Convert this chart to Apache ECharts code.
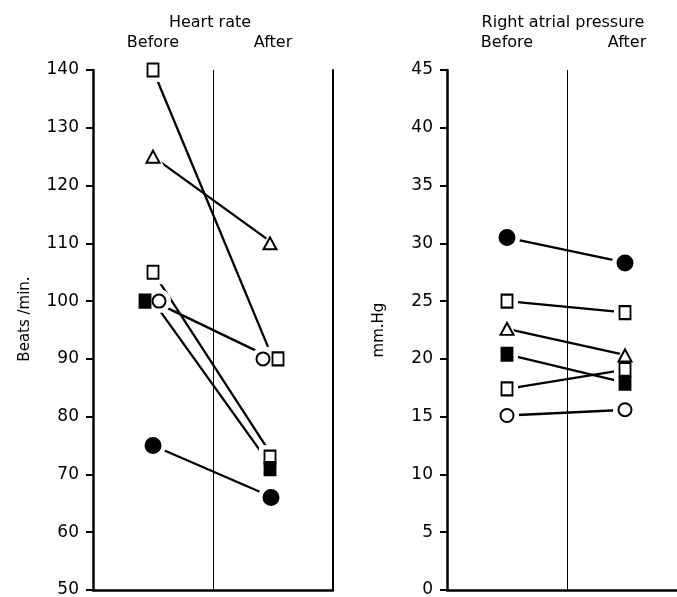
<!DOCTYPE html>
<html><head><meta charset="utf-8">
<script src="https://cdn.jsdelivr.net/npm/echarts@6/dist/echarts.min.js"></script>
<style>html,body{margin:0;padding:0;background:#fff}#c{width:677px;height:597px}</style>
</head><body><div id="c"></div>
<script>
// ---- data ----
const phases = ['Before', 'After'];
const hrTitle = 'Heart rate';
const hrAxisName = 'Beats /min.';
const hrBefore = [140, 125, 105, 100, 100, 75];
const hrAfter  = [90, 110, 73, 71, 90, 66];
const hrMarkers = ['openSquare', 'openTriangle', 'openSquare', 'filledSquare', 'openCircle', 'filledCircle'];
const hrMin = 50, hrMax = 140, hrStep = 10;

const rapTitle = 'Right atrial pressure';
const rapAxisName = 'mm.Hg';
const rapBefore = [30.5, 25, 22.6, 20.4, 17.4, 15.1];
const rapAfter  = [28.3, 24, 20.3, 17.9, 19.1, 15.6];
const rapMarkers = ['filledCircle', 'openSquare', 'openTriangle', 'filledSquare', 'openSquare', 'openCircle'];
const rapMin = 0, rapMax = 45, rapStep = 5;

// ---- styles ----
const FONT = 'DejaVu Sans';
const markerStyles = {
  openSquare:   { symbol: 'rect', size: [11, 13], fill: '#fff' },
  filledSquare: { symbol: 'rect', size: [11, 13], fill: '#000' },
  openCircle:   { symbol: 'circle', size: 13, fill: '#fff' },
  filledCircle: { symbol: 'circle', size: 15, fill: '#000' },
  openTriangle: { symbol: 'triangle', size: [13, 12], fill: '#fff' }
};
// horizontal nudges so side-by-side markers do not overlap
const hrOffBefore = [0, 0, 0, -8, 6, 0];
const hrOffAfter  = [5, -3, -3, -3, -10, -2];
const rapOffBefore = [0, 0, 0, 0, 0, 0];
const rapOffAfter  = [-2, -2, -2, -2, -2, -2];

const panels = [
  { title: hrTitle, name: hrAxisName, before: hrBefore, after: hrAfter, markers: hrMarkers,
    min: hrMin, max: hrMax, step: hrStep, offB: hrOffBefore, offA: hrOffAfter, left: 93, titleX: 210,
    namePad: [0,0,0,22], rightBorder: true },
  { title: rapTitle, name: rapAxisName, before: rapBefore, after: rapAfter, markers: rapMarkers,
    min: rapMin, max: rapMax, step: rapStep, offB: rapOffBefore, offA: rapOffAfter, left: 447, titleX: 563,
    namePad: [0,0,0,0], rightBorder: false }
];

const grids = [], xAxes = [], yAxes = [], series = [], graphics = [];
panels.forEach((p, gi) => {
  grids.push({ left: p.left, top: 70, width: 240, height: 520, containLabel: false, outerBoundsMode: 'none' });
  xAxes.push({
    type: 'category', data: phases, gridIndex: gi, position: 'top',
    axisLine: { show: false }, axisTick: { show: false },
    axisLabel: { fontFamily: FONT, fontSize: 16, color: '#000', margin: 19 },
    splitLine: { show: true, lineStyle: { color: '#000', width: 1 } }
  });
  xAxes.push({
    type: 'category', data: phases, gridIndex: gi, position: 'bottom',
    axisLine: { show: true, lineStyle: { color: '#000', width: 2.5 } },
    axisTick: { show: false }, axisLabel: { show: false }, splitLine: { show: false }
  });
  yAxes.push({
    type: 'value', gridIndex: gi, min: p.min, max: p.max, interval: p.step, position: 'left',
    name: p.name, nameLocation: 'middle', nameGap: 60,
    nameTextStyle: { fontFamily: FONT, fontSize: 15, color: '#000', padding: p.namePad },
    axisLine: { show: true, lineStyle: { color: '#000', width: 2.5 } },
    axisTick: { show: true, inside: false, length: 7, lineStyle: { color: '#000', width: 2 } },
    axisLabel: { fontFamily: FONT, fontSize: 17, color: '#000', margin: 14 },
    splitLine: { show: false }
  });
  yAxes.push({
    type: 'value', gridIndex: gi, min: p.min, max: p.max, interval: p.step, position: 'right',
    axisLine: { show: p.rightBorder, lineStyle: { color: '#000', width: 2 } },
    axisTick: { show: false }, axisLabel: { show: false }, splitLine: { show: false }
  });
  graphics.push({ type: 'text', x: p.titleX, y: 23,
    style: { text: p.title, font: '16px "' + FONT + '"', fill: '#000', textAlign: 'center', textVerticalAlign: 'middle' } });

  const xi = gi * 2, yi = gi * 2;
  const haloData = [], markData = [];
  p.before.forEach((b, i) => {
    const a = p.after[i];
    const st = markerStyles[p.markers[i]];
    series.push({
      type: 'line', xAxisIndex: xi, yAxisIndex: yi, data: [b, a], symbol: 'none', z: 2,
      lineStyle: { color: '#000', width: 2.3, opacity: 1 }, silent: true, animation: false
    });
    const big = Array.isArray(st.size) ? st.size.map(s => s + 11) : st.size + 11;
    [[phases[0], b, p.offB[i]], [phases[1], a, p.offA[i]]].forEach(([ph, v, off]) => {
      haloData.push({ value: [ph, v], symbol: st.symbol, symbolSize: big, symbolOffset: [off, 0] });
      markData.push({ value: [ph, v], symbol: st.symbol, symbolSize: st.size, symbolOffset: [off, 0],
        itemStyle: { color: st.fill, borderColor: '#000', borderWidth: 2, opacity: 1 } });
    });
  });
  series.push({ type: 'scatter', xAxisIndex: xi, yAxisIndex: yi, data: haloData, z: 3,
    itemStyle: { color: '#fff', opacity: 1 }, silent: true, animation: false });
  series.push({ type: 'scatter', xAxisIndex: xi, yAxisIndex: yi, data: markData, z: 4,
    itemStyle: { opacity: 1 }, silent: true, animation: false });
});

const chart = echarts.init(document.getElementById('c'));
chart.setOption({
  backgroundColor: '#fff', animation: false,
  grid: grids, xAxis: xAxes, yAxis: yAxes, series: series, graphic: graphics
});
</script></body></html>
